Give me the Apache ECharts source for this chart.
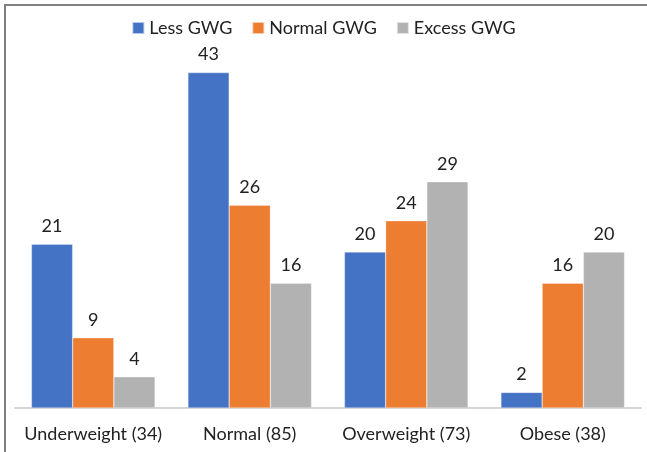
<!DOCTYPE html>
<html>
<head>
<meta charset="utf-8">
<script src="https://cdn.jsdelivr.net/npm/echarts@6/dist/echarts.min.js"></script>
<style>
  html, body { margin: 0; padding: 0; background: #fff; }
  #chart { width: 647px; height: 452px; }
</style>
</head>
<body>
<div id="chart"></div>
<script>
// BMI groups with group sizes
const categories = ['Underweight (34)', 'Normal (85)', 'Overweight (73)', 'Obese (38)'];
const seriesNames = ['Less GWG', 'Normal GWG', 'Excess GWG'];
const lessGWG = [21, 43, 20, 2];
const normalGWG = [9, 26, 24, 16];
const excessGWG = [4, 16, 29, 20];

const colors = ['#4472C4', '#ED7D31', '#B2B2B2'];
const font = 'Lato, "Open Sans", sans-serif';

const chart = echarts.init(document.getElementById('chart'), null, { renderer: 'canvas' });

function barSeries(name, data, color) {
  return {
    name: name,
    type: 'bar',
    data: data,
    barGap: '0%',
    barCategoryGap: '21%',
    itemStyle: { color: color, borderColor: 'rgba(255,255,255,0.6)', borderWidth: 0.5 },
    label: {
      show: true,
      position: 'top',
      distance: 9,
      color: '#222',
      fontSize: 18,
      fontFamily: font
    }
  };
}

chart.setOption({
  animation: false,
  backgroundColor: '#fff',
  legend: {
    top: 14,
    left: 'center',
    itemWidth: 12,
    itemHeight: 12,
    itemGap: 19,
    icon: 'rect',
    textStyle: { color: '#222', fontSize: 18, fontFamily: font },
    data: seriesNames
  },
  grid: { left: 15, right: 6, top: 18, bottom: 44, containLabel: false },
  xAxis: {
    type: 'category',
    data: categories,
    axisLine: { lineStyle: { color: '#c8c8c8', width: 1.5 } },
    axisTick: { show: false },
    axisLabel: { color: '#222', fontSize: 18, fontFamily: font, margin: 17, interval: 0 }
  },
  yAxis: {
    type: 'value',
    min: 0,
    max: 50,
    interval: 10,
    show: false,
    splitLine: { show: false }
  },
  series: [
    barSeries(seriesNames[0], lessGWG, colors[0]),
    barSeries(seriesNames[1], normalGWG, colors[1]),
    barSeries(seriesNames[2], excessGWG, colors[2])
  ],
  graphic: [
    {
      type: 'polyline',
      shape: { points: [[5, 452], [5, 5], [647, 5]] },
      style: { stroke: '#808080', lineWidth: 2, fill: null },
      silent: true
    }
  ]
});
</script>
</body>
</html>
